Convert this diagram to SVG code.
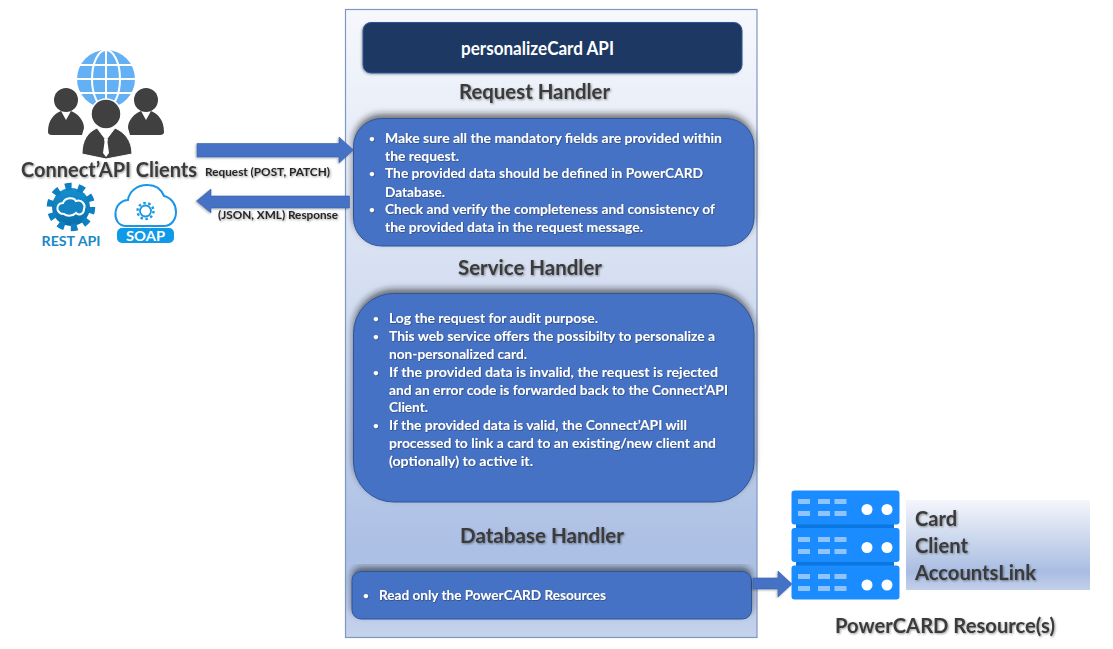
<svg xmlns="http://www.w3.org/2000/svg" width="1113" height="649" viewBox="0 0 1113 649">
<style>
text{font-family:"Lato","Open Sans","Liberation Sans",sans-serif;font-weight:700}
.h{font-size:20px;fill:#3a3a3a;filter:url(#ts)}
.b{font-size:13px;fill:#fff;filter:url(#tw)}
.bu{font-size:10px;fill:#fff;filter:url(#tw)}
.l{font-size:12px;fill:#262626;filter:url(#ts)}
.box{fill:#4472c4;stroke:#2f5597;stroke-width:1;filter:url(#up)}
.arrow{fill:#4472c4;stroke:#3a62a8;stroke-width:.6;filter:url(#as)}
.p{fill:#404040}
.srv{fill:#1a8cff}
.slot{fill:#8fc4fb}
.dot{fill:#fff}
</style>
<defs>
<linearGradient id="panel" x1="0" y1="0" x2="0" y2="1">
<stop offset="0" stop-color="#f6f8fc"/><stop offset=".5" stop-color="#d0dbf0"/><stop offset=".87" stop-color="#abbfe4"/><stop offset="1" stop-color="#c6d3ec"/>
</linearGradient>
<linearGradient id="side" x1="0" y1="0" x2="0" y2="1">
<stop offset="0" stop-color="#f4f6fb"/><stop offset=".8" stop-color="#a9bde2"/><stop offset="1" stop-color="#c3d0ea"/>
</linearGradient>
<linearGradient id="gear" x1="0" y1="0" x2="0" y2="1">
<stop offset="0" stop-color="#1590d0"/><stop offset="1" stop-color="#0b6ea8"/>
</linearGradient>
<filter id="ts" x="-5%" y="-20%" width="110%" height="150%"><feDropShadow dx="1" dy="1" stdDeviation=".8" flood-color="#000" flood-opacity=".4"/></filter>
<filter id="tw" x="-5%" y="-20%" width="110%" height="150%"><feDropShadow dx=".6" dy=".6" stdDeviation=".5" flood-color="#1a2a4a" flood-opacity=".7"/></filter>
<filter id="up" x="-5%" y="-15%" width="110%" height="125%"><feDropShadow dx="0" dy="-4" stdDeviation="3" flood-color="#222" flood-opacity=".6"/></filter>
<filter id="as" x="-10%" y="-30%" width="120%" height="160%"><feDropShadow dx="-1" dy="1" stdDeviation="1.200" flood-color="#000" flood-opacity=".3"/></filter>
</defs>
<rect width="1113" height="649" fill="#fff"/>

<g id="api-panel">
<rect x="345.5" y="9.5" width="411.5" height="628" fill="url(#panel)" stroke="#7f97c4" stroke-width="1.2"/>
</g>

<g id="title">
<rect x="363" y="22.5" width="379" height="50.500" rx="8" fill="#1f3864" stroke="#2f5597" filter="url(#as)"/>
<text x="461" y="55" font-size="18.500" fill="#fff" textLength="153" lengthAdjust="spacingAndGlyphs">personalizeCard API</text>
</g>

<g id="request-handler">
<text class="h" x="459" y="99" textLength="151" lengthAdjust="spacingAndGlyphs">Request Handler</text>
<rect class="box" x="353.500" y="118.500" width="400.500" height="127.500" rx="28"/>
<text class="bu" x="369" y="142">•</text><text class="bu" x="369" y="177">•</text><text class="bu" x="369" y="213">•</text>
<g class="b">
<text x="385" y="143" textLength="337" lengthAdjust="spacingAndGlyphs">Make sure all the mandatory fields are provided within</text>
<text x="385" y="161" textLength="74" lengthAdjust="spacingAndGlyphs">the request.</text>
<text x="385" y="178" textLength="318" lengthAdjust="spacingAndGlyphs">The provided data should be defined in PowerCARD</text>
<text x="385" y="197" textLength="60" lengthAdjust="spacingAndGlyphs">Database.</text>
<text x="385" y="214" textLength="330" lengthAdjust="spacingAndGlyphs">Check and verify the completeness and consistency of</text>
<text x="385" y="232" textLength="258" lengthAdjust="spacingAndGlyphs">the provided data in the request message.</text>
</g>
</g>

<g id="service-handler">
<text class="h" x="458" y="275" textLength="144" lengthAdjust="spacingAndGlyphs">Service Handler</text>
<rect class="box" x="353.500" y="293.500" width="400.500" height="208.500" rx="40"/>
<text class="bu" x="373" y="322">•</text><text class="bu" x="373" y="340">•</text><text class="bu" x="373" y="376">•</text><text class="bu" x="373" y="429">•</text>
<g class="b">
<text x="389" y="323" textLength="209" lengthAdjust="spacingAndGlyphs">Log the request for audit purpose.</text>
<text x="389" y="341" textLength="326" lengthAdjust="spacingAndGlyphs">This web service offers the possibilty to personalize a</text>
<text x="389" y="359" textLength="138" lengthAdjust="spacingAndGlyphs">non-personalized card.</text>
<text x="389" y="377" textLength="329" lengthAdjust="spacingAndGlyphs">If the provided data is invalid, the request is rejected</text>
<text x="389" y="395" textLength="339" lengthAdjust="spacingAndGlyphs">and an error code is forwarded back to the Connect’API</text>
<text x="389" y="412" textLength="39" lengthAdjust="spacingAndGlyphs">Client.</text>
<text x="389" y="430" textLength="298" lengthAdjust="spacingAndGlyphs">If the provided data is valid, the Connect’API will</text>
<text x="389" y="448" textLength="327" lengthAdjust="spacingAndGlyphs">processed to link a card to an existing/new client and</text>
<text x="389" y="466" textLength="144" lengthAdjust="spacingAndGlyphs">(optionally) to active it.</text>
</g>
</g>

<g id="database-handler">
<text class="h" x="460" y="543" textLength="164" lengthAdjust="spacingAndGlyphs">Database Handler</text>
<rect class="box" x="352" y="571.500" width="399.500" height="47.500" rx="9"/>
<text class="bu" x="363" y="599">•</text><text class="b" x="379" y="600" textLength="227" lengthAdjust="spacingAndGlyphs">Read only the PowerCARD Resources</text>
</g>

<g id="connectors">
<path class="arrow" d="M197 143.500H339V137L353.500 150L339 163V157H197Z"/>
<path class="arrow" d="M349.500 196H211V189L196.500 201L211 213V208H349.500Z"/>
<path class="arrow" d="M753 578H778V571L792 584L778 597V589H753Z"/>
<text class="l" x="205" y="176" textLength="125" lengthAdjust="spacingAndGlyphs">Request (POST, PATCH)</text>
<text class="l" x="218" y="219" textLength="120" lengthAdjust="spacingAndGlyphs">(JSON, XML) Response</text>
</g>

<g id="clients">
<circle cx="106" cy="79" r="29" fill="#64b0f5"/>
<g fill="none" stroke="#fff" stroke-width="2">
<path d="M77 79H135M80 65H132M80 93H132M106 50V108"/>
<ellipse cx="106" cy="79" rx="14" ry="29"/>
</g>
<circle cx="66" cy="100" r="12" class="p"/>
<circle cx="146" cy="100" r="12" class="p"/>
<path class="p" d="M48 132C48 120 54 114 61 111L66 120L71 111C78 114 84 120 84 128L82 135H52Q48 135 48 132Z"/>
<path class="p" d="M164 132C164 120 158 114 151 111L146 120L141 111C134 114 128 120 128 128L130 135H160Q164 135 164 132Z"/>
<circle cx="106" cy="114" r="15" class="p" stroke="#fff" stroke-width="1.500"/>
<path class="p" d="M82 154C82 140 88 132 97 128L106 140L115 128C124 132 132 140 132 154L106 159Z" stroke="#fff" stroke-width="1"/>
<path d="M104 139H108L107.500 142L109 153L106 157L103 153L104.500 142Z" fill="#fff"/>
<text x="21" y="177" font-size="20" fill="#3a3a3a" filter="url(#ts)" textLength="176" lengthAdjust="spacingAndGlyphs">Connect’API Clients</text>
</g>

<g id="rest-api">
<circle cx="71" cy="207" r="19" fill="url(#gear)"/>
<circle cx="71" cy="207" r="20.500" fill="none" stroke="#0e7fc0" stroke-width="7.500" stroke-dasharray="6.440 6.440"/>
<path d="M60 213C55 209 58 203 63 203C65 197 74 197 76 201C82 199 86 205 84 209C84 214 79 216 76 213C72 217 66 216 64 214C63 214 61 214 60 213Z" fill="#1383c4" stroke="#fff" stroke-width="2"/>
<text x="71" y="246" font-size="13" fill="#1a87c8" text-anchor="middle" textLength="59" lengthAdjust="spacingAndGlyphs">REST API</text>
</g>

<g id="soap">
<path d="M126 226C118 226 115 219 115.500 213C116 205 122 200 128 200C129 191 138 184.500 148 185C155 185 161 189 164 196C172 198 176 205 176 212C176 220 171 226 164 226Z" fill="#fff" stroke="#1a96e6" stroke-width="2"/>
<circle cx="145.500" cy="211" r="5.500" fill="none" stroke="#1a96e6" stroke-width="1.800"/>
<circle cx="145.500" cy="211" r="8" fill="none" stroke="#1a96e6" stroke-width="2.400" stroke-dasharray="2.500 2.530"/>
<rect x="117" y="228" width="57" height="15" rx="5" fill="#0f9ae8"/>
<text x="145.500" y="241" font-size="14" fill="#fff" text-anchor="middle" textLength="39" lengthAdjust="spacingAndGlyphs">SOAP</text>
</g>

<g id="powercard-resources">
<rect x="796" y="520" width="98" height="50" fill="#0a77e0"/>
<rect class="srv" x="791.500" y="490.500" width="108" height="34" rx="3"/>
<rect class="srv" x="791.500" y="528" width="108" height="34" rx="3"/>
<rect class="srv" x="791.500" y="565.500" width="108" height="34" rx="3"/>
<g class="slot">
<path d="M798 499h12v5h-12zM818 499h12v5h-12zM834.500 499h12v5h-12zM798 511h12v5h-12zM818 511h12v5h-12zM834.500 511h12v5h-12z"/>
<path d="M798 537h12v5h-12zM818 537h12v5h-12zM834.500 537h12v5h-12zM798 549h12v5h-12zM818 549h12v5h-12zM834.500 549h12v5h-12z"/>
<path d="M798 574h12v5h-12zM818 574h12v5h-12zM834.500 574h12v5h-12zM798 586h12v5h-12zM818 586h12v5h-12zM834.500 586h12v5h-12z"/>
</g>
<g class="dot">
<circle cx="867" cy="509.500" r="5.500"/><circle cx="887" cy="509.500" r="5.500"/>
<circle cx="867" cy="547.500" r="5.500"/><circle cx="887" cy="547.500" r="5.500"/>
<circle cx="867" cy="585" r="5.500"/><circle cx="887" cy="585" r="5.500"/>
</g>
<rect x="906" y="500" width="184" height="90" fill="url(#side)"/>
<text class="h" x="915" y="526" textLength="42" lengthAdjust="spacingAndGlyphs">Card</text>
<text class="h" x="915" y="553" textLength="53" lengthAdjust="spacingAndGlyphs">Client</text>
<text class="h" x="915" y="580" textLength="121" lengthAdjust="spacingAndGlyphs">AccountsLink</text>
<text class="h" x="835" y="633" textLength="220" lengthAdjust="spacingAndGlyphs">PowerCARD Resource(s)</text>
</g>
</svg>
